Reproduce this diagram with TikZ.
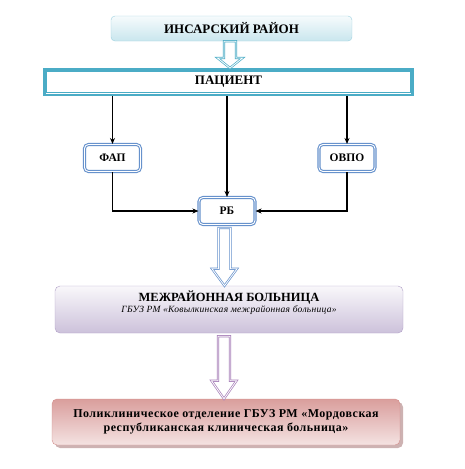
\documentclass[tikz,border=0pt]{standalone}
\usepackage{fontspec}
\setmainfont{Liberation Serif}
\usetikzlibrary{arrows.meta,calc,shadows}
\definecolor{teal}{HTML}{4BACC6}
\definecolor{boxblue}{HTML}{6792CC}
\definecolor{lilac}{HTML}{B1A0C7}
\definecolor{rose}{HTML}{D38D8B}
\begin{document}
\begin{tikzpicture}[x=1pt, y=-1pt, every node/.style={font=\bfseries},
  region/.style={draw=teal!55, rounded corners=4pt, top color=teal!5, bottom color=teal!30,
    minimum width=241, minimum height=25, font=\fontsize{13}{15}\selectfont\bfseries},
  band/.style={draw=teal, line width=2.5pt, minimum width=368, minimum height=25.5,
    font=\fontsize{13}{15}\selectfont\bfseries},
  unit/.style={draw=boxblue, double=white, double distance=0.9pt, line width=1.1pt, fill=white,
    rounded corners=4pt, minimum width=56, minimum height=27, font=\fontsize{11.5}{13}\selectfont\bfseries},
  link/.style={-{Stealth[length=6pt,width=5pt]}, line width=1.4pt},
  hollow/.style={draw=#1, double=white, double distance=0.8pt, line width=0.7pt, fill=white, line join=miter},
  shape/.style={to path={let \p1=(\tikztostart), \p2=(\tikztotarget) in
    (\x1-6pt,\y1) -- (\x1-6pt,\y2+#1) -- (\x1-12.5pt,\y2+#1) -- (\x1,\y2)
    -- (\x1+12.5pt,\y2+#1) -- (\x1+6pt,\y2+#1) -- (\x1+6pt,\y1) -- cycle}}]
  \useasboundingbox (0,0) rectangle (464,469);
  \node[region] (top) at (231.5,28.5) {ИНСАРСКИЙ РАЙОН};
  \node[band] (pat) at (228.5,82) {ПАЦИЕНТ};
  \draw[teal, line width=1pt] ([shift={(3.5,3.5)}]pat.north west) rectangle ([shift={(-3.5,-3.5)}]pat.south east);
  \node[unit] (fap) at (112.5,158) {ФАП};
  \node[unit] (ovpo) at (347,158) {ОВПО};
  \node[unit] (rb) at (227,211) {РБ};
  \draw[link] (pat.south -| fap) -- (fap.north);
  \draw[link] (pat.south -| rb) -- (rb.north);
  \draw[link] (pat.south -| ovpo) -- (ovpo.north);
  \draw[link] (fap.south) |- (rb.west);
  \draw[link] (ovpo.south) |- (rb.east);
  % interdistrict level
  \node[draw=lilac, rounded corners=5pt, top color=lilac!8, bottom color=lilac!65,
    minimum width=348, minimum height=47, align=center] (mrb) at (229,309.5)
    {{\fontsize{12.5}{14}\selectfont МЕЖРАЙОННАЯ БОЛЬНИЦА}\\[-1pt]
     {\fontsize{9.5}{11}\selectfont\mdseries\itshape\addfontfeature{LetterSpace=3} ГБУЗ РМ «Ковылкинская межрайонная больница»}\\[3pt]};
  \node[draw=rose, rounded corners=5pt, top color=rose!85, bottom color=rose!25,
    drop shadow={shadow xshift=3pt, shadow yshift=-3pt, fill=rose!60!gray!80, opacity=0.8},
    minimum width=348, minimum height=46, align=center,
    font=\fontsize{12}{14}\selectfont\bfseries\addfontfeature{LetterSpace=4}] (rkb) at (226,422)
    {Поликлиническое отделение ГБУЗ РМ «Мордовская\\республиканская клиническая больница»};
  % hollow arrows
  \draw[hollow=teal] ([xshift=-1.5pt]top.south) to[shape=10pt] (pat.north);
  \draw[hollow=boxblue] ([shift={(-2.5,3)}]rb.south) to[shape=17pt] (mrb.north);
  \draw[hollow=lilac!80!violet] ([shift={(-5,3)}]mrb.south) to[shape=18pt] (rkb.north);
\end{tikzpicture}
\end{document}
